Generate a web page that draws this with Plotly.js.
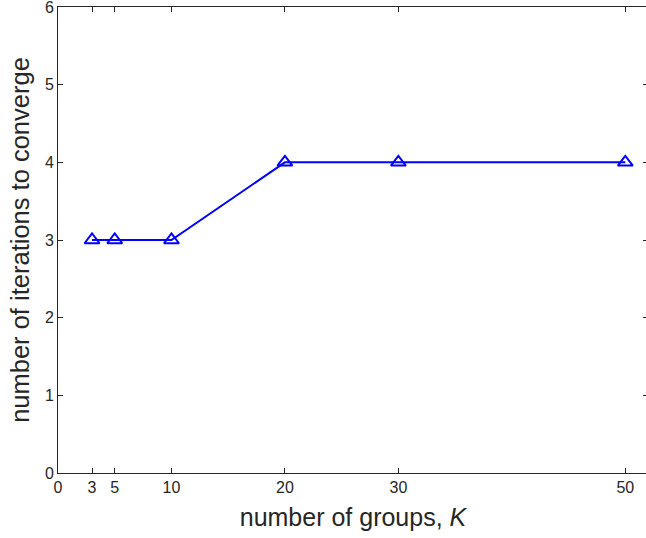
<!DOCTYPE html>
<html>
<head>
<meta charset="utf-8">
<script src="https://cdn.plot.ly/plotly-3.0.1.min.js"></script>
<style>
html,body{margin:0;padding:0;overflow:hidden;background:#fff;}
#chart{width:652px;height:538px;}
</style>
</head>
<body>
<div id="chart"></div>
<script>
const groupsK = [3, 5, 10, 20, 30, 50];
const iterations = [3, 3, 3, 4, 4, 4];
const xTicks = [0, 3, 5, 10, 20, 30, 50];
const yTicks = [0, 1, 2, 3, 4, 5, 6];

const FONT = 'Liberation Sans, Arial, sans-serif';
const axisCommon = {
  showline: true, linecolor: '#262626', linewidth: 1, mirror: 'ticks',
  ticks: 'inside', ticklen: 5, tickwidth: 1, tickcolor: '#262626',
  showgrid: false, zeroline: false, ticklabeloverflow: 'allow',
  tickfont: {family: FONT, size: 16, color: '#262626'}
};

Plotly.newPlot('chart', [{
  x: groupsK, y: iterations, type: 'scatter', mode: 'lines+markers',
  line: {color: '#0000ff', width: 2},
  marker: {symbol: 'triangle-up-open', size: 13, color: '#0000ff', line: {width: 2, color: '#0000ff'}},
  showlegend: false, cliponaxis: false
}], {
  width: 652, height: 538,
  margin: {l: 58, r: 4, t: 7, b: 65},
  paper_bgcolor: '#fff', plot_bgcolor: '#fff',
  xaxis: Object.assign({}, axisCommon, {
    range: [0, 52], tickmode: 'array', tickvals: xTicks, ticktext: xTicks.map(String),
    title: {text: 'number of groups, <i>K</i>', font: {family: FONT, size: 25, color: '#262626'}, standoff: 13}
  }),
  yaxis: Object.assign({}, axisCommon, {
    range: [0, 6], tickmode: 'array', tickvals: yTicks, ticktext: yTicks.map(String),
    title: {text: 'number of iterations to converge', font: {family: FONT, size: 25.5, color: '#262626'}, standoff: 7}
  })
}, {displayModeBar: false, staticPlot: true});
</script>
</body>
</html>
